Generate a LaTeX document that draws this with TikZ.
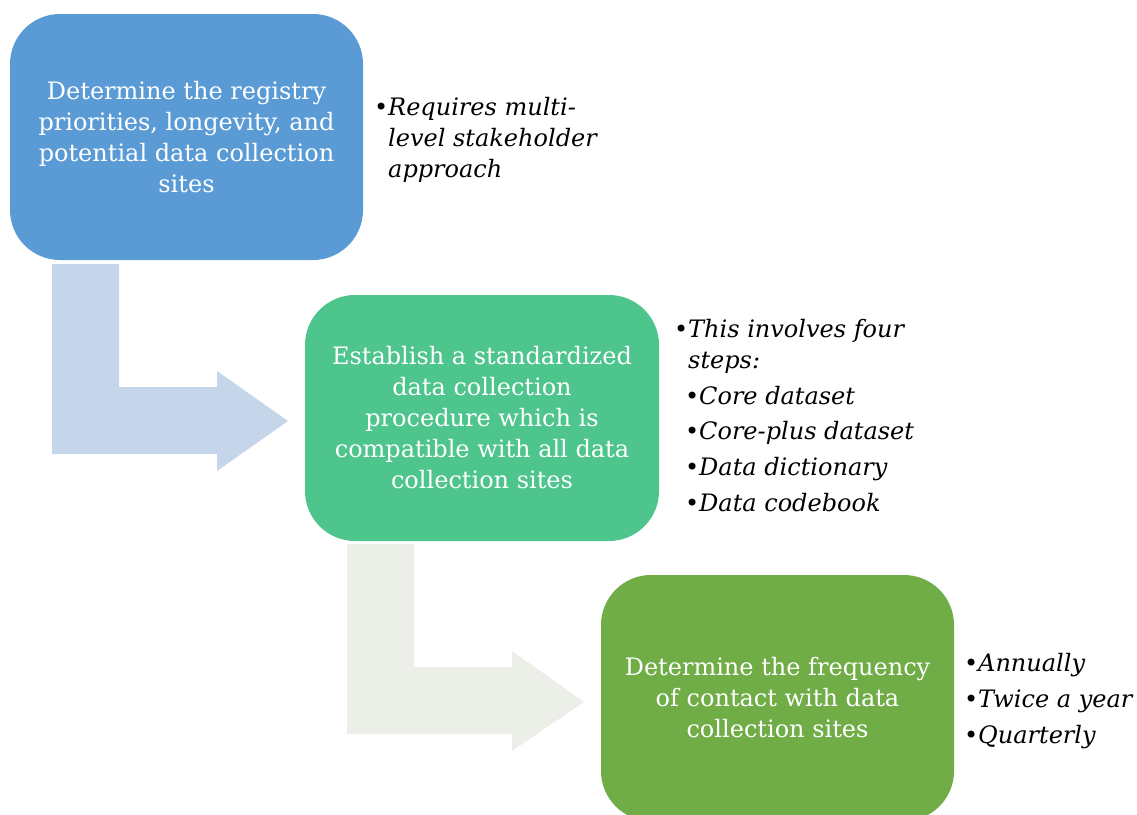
\documentclass[tikz,border=0pt]{standalone}
\usepackage{fontspec}
\setmainfont{DejaVu Serif}
\definecolor{boxA}{HTML}{5B9BD5}
\definecolor{boxB}{HTML}{4FC58E}
\definecolor{boxC}{HTML}{70AD47}
\definecolor{arrA}{HTML}{C5D5EA}
\definecolor{arrB}{HTML}{EBEFE8}
\tikzset{
  stepbox/.style={rounded corners=50pt, inner sep=0pt},
  boxtext/.style={text=white, align=center, font=\fontsize{24}{31}\selectfont, inner sep=0pt},
  side/.style={anchor=base west, inner sep=0pt, font=\fontsize{24}{31}\selectfont\itshape},
  bul/.style={anchor=base west, inner sep=0pt, font=\fontsize{24}{31}\selectfont},
}
\begin{document}
\begin{tikzpicture}[x=1pt,y=-1pt]
\useasboundingbox (0,0) rectangle (1137,814);
\begin{scope}
\clip (0,0) rectangle (1137,814);
% arrows
\fill[arrA] (52,264) -- (119,264) -- (119,387) -- (217,387) -- (217,371) -- (288,421) -- (217,471) -- (217,454) -- (52,454) -- cycle;
\fill[arrB] (347,544) -- (414,544) -- (414,667) -- (512,667) -- (512,651) -- (584,702) -- (512,751) -- (512,734) -- (347,734) -- cycle;
% boxes
\fill[boxA, stepbox] (10,14) rectangle (363,260);
\fill[boxB, stepbox] (305,295) rectangle (659,541);
\fill[boxC, stepbox] (601,575) rectangle (954,821);
\end{scope}
\node[boxtext] (t1) at (186.5,137) {Determine the registry\\priorities, longevity, and\\potential data collection\\sites};
\node[boxtext] (t2) at (482,418) {Establish a standardized\\data collection\\procedure which is\\compatible with all data\\collection sites};
\node[boxtext] (t3) at (777.5,698) {Determine the frequency\\of contact with data\\collection sites};
% side texts 1
\node[bul] (b1) at (374,115) {•};
\node[side] (s1a) at (388,115) {Requires multi-};
\node[side] (s1b) at (388,146) {level stakeholder};
\node[side] (s1c) at (388,177) {approach};
% side texts 2
\node[bul] (b2) at (674,337) {•};
\node[side] (s2a) at (688,337) {This involves four};
\node[side] (s2b) at (688,368) {steps:};
\node[bul] (b2c) at (685,404) {•};
\node[side] (s2c) at (699,404) {Core dataset};
\node[bul] (b2d) at (685,439) {•};
\node[side] (s2d) at (699,439) {Core-plus dataset};
\node[bul] (b2e) at (685,475) {•};
\node[side] (s2e) at (699,475) {Data dictionary};
\node[bul] (b2f) at (685,511) {•};
\node[side] (s2f) at (699,511) {Data codebook};
% side texts 3
\node[bul] (b3a) at (964,671) {•};
\node[side] (s3a) at (978,671) {Annually};
\node[bul] (b3b) at (964,707) {•};
\node[side] (s3b) at (978,707) {Twice a year};
\node[bul] (b3c) at (964,743) {•};
\node[side] (s3c) at (978,743) {Quarterly};
\end{tikzpicture}
\end{document}
